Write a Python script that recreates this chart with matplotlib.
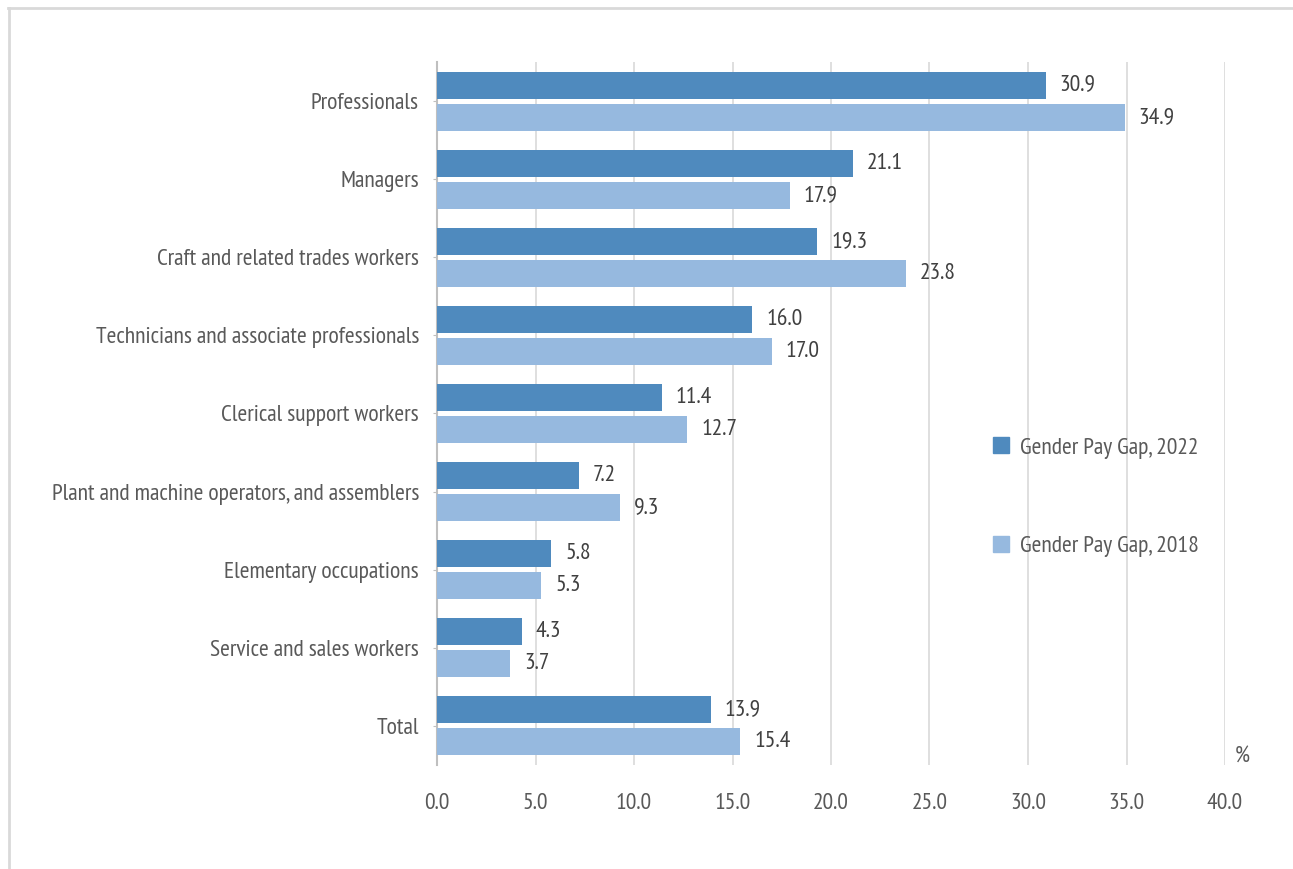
import matplotlib
matplotlib.use("Agg")
import matplotlib.pyplot as plt
from matplotlib.lines import Line2D
import numpy as np

plt.rcParams['font.family'] = ['PT Sans Narrow', 'DejaVu Sans']

categories = ["Professionals", "Managers", "Craft and related trades workers",
              "Technicians and associate professionals", "Clerical support workers",
              "Plant and machine operators, and assemblers", "Elementary occupations",
              "Service and sales workers", "Total"]
gap_2022 = [30.9, 21.1, 19.3, 16.0, 11.4, 7.2, 5.8, 4.3, 13.9]
gap_2018 = [34.9, 17.9, 23.8, 17.0, 12.7, 9.3, 5.3, 3.7, 15.4]
series_labels = ["Gender Pay Gap, 2022", "Gender Pay Gap, 2018"]
xticks = [0, 5, 10, 15, 20, 25, 30, 35, 40]

c_dark = "#4f8abe"
c_light = "#96b9df"
txt = "#595959"
fs = 17

fig = plt.figure(figsize=(12.93, 8.69), dpi=100)
ax = fig.add_axes([437/1293, 1 - 765/869, (1225-437)/1293, (765-62)/869])

y = np.arange(len(categories))
h = 0.345
off = 0.205
b1 = ax.barh(y - off, gap_2022, height=h, color=c_dark, zorder=3)
b2 = ax.barh(y + off, gap_2018, height=h, color=c_light, zorder=3)

# value labels to the right of each bar
for bars, vals in ((b1, gap_2022), (b2, gap_2018)):
    for rect, v in zip(bars, vals):
        ax.annotate(f"{v:.1f}", (v, rect.get_y() + rect.get_height()/2),
                    xytext=(14, 0), textcoords="offset pixels",
                    va="center", ha="left", fontsize=fs, color="#404040")

ax.set_ylim(len(categories) - 0.5, -0.5)
ax.set_xlim(0, 40)
ax.set_yticks(y)
ax.set_yticklabels(categories, fontsize=fs, color=txt)
ax.set_xticks(xticks)
ax.set_xticklabels([f"{t:.1f}" for t in xticks], fontsize=fs, color=txt)
ax.tick_params(axis="x", length=0, pad=20)
ax.tick_params(axis="y", length=3, color="#bfbfbf", pad=10)
ax.grid(axis="x", color="#d9d9d9", linewidth=1.2, zorder=0)
for s in ["top", "right", "bottom"]:
    ax.spines[s].set_visible(False)
ax.spines["left"].set_color("#bfbfbf")
ax.spines["left"].set_linewidth(1.5)

handles = [Line2D([], [], marker="s", linestyle="", markersize=11, color=c_dark),
           Line2D([], [], marker="s", linestyle="", markersize=11, color=c_light)]
fig.legend(handles, series_labels, loc="center left", bbox_to_anchor=(968/1293, 1 - 497/869),
           frameon=False, fontsize=fs, labelcolor=txt, handletextpad=0.3,
           labelspacing=3.25, handlelength=1.0)

fig.text(1242/1293, 1 - 757/869, "%", fontsize=fs, color=txt, ha="center", va="center")

# light frame along top and left edge
fig.add_artist(Line2D([8/1293, 1], [1 - 8/869, 1 - 8/869], color="#d9d9d9", linewidth=2))
fig.add_artist(Line2D([9/1293, 9/1293], [0, 1 - 8/869], color="#d9d9d9", linewidth=2))

fig.savefig("out.png", dpi=100)
